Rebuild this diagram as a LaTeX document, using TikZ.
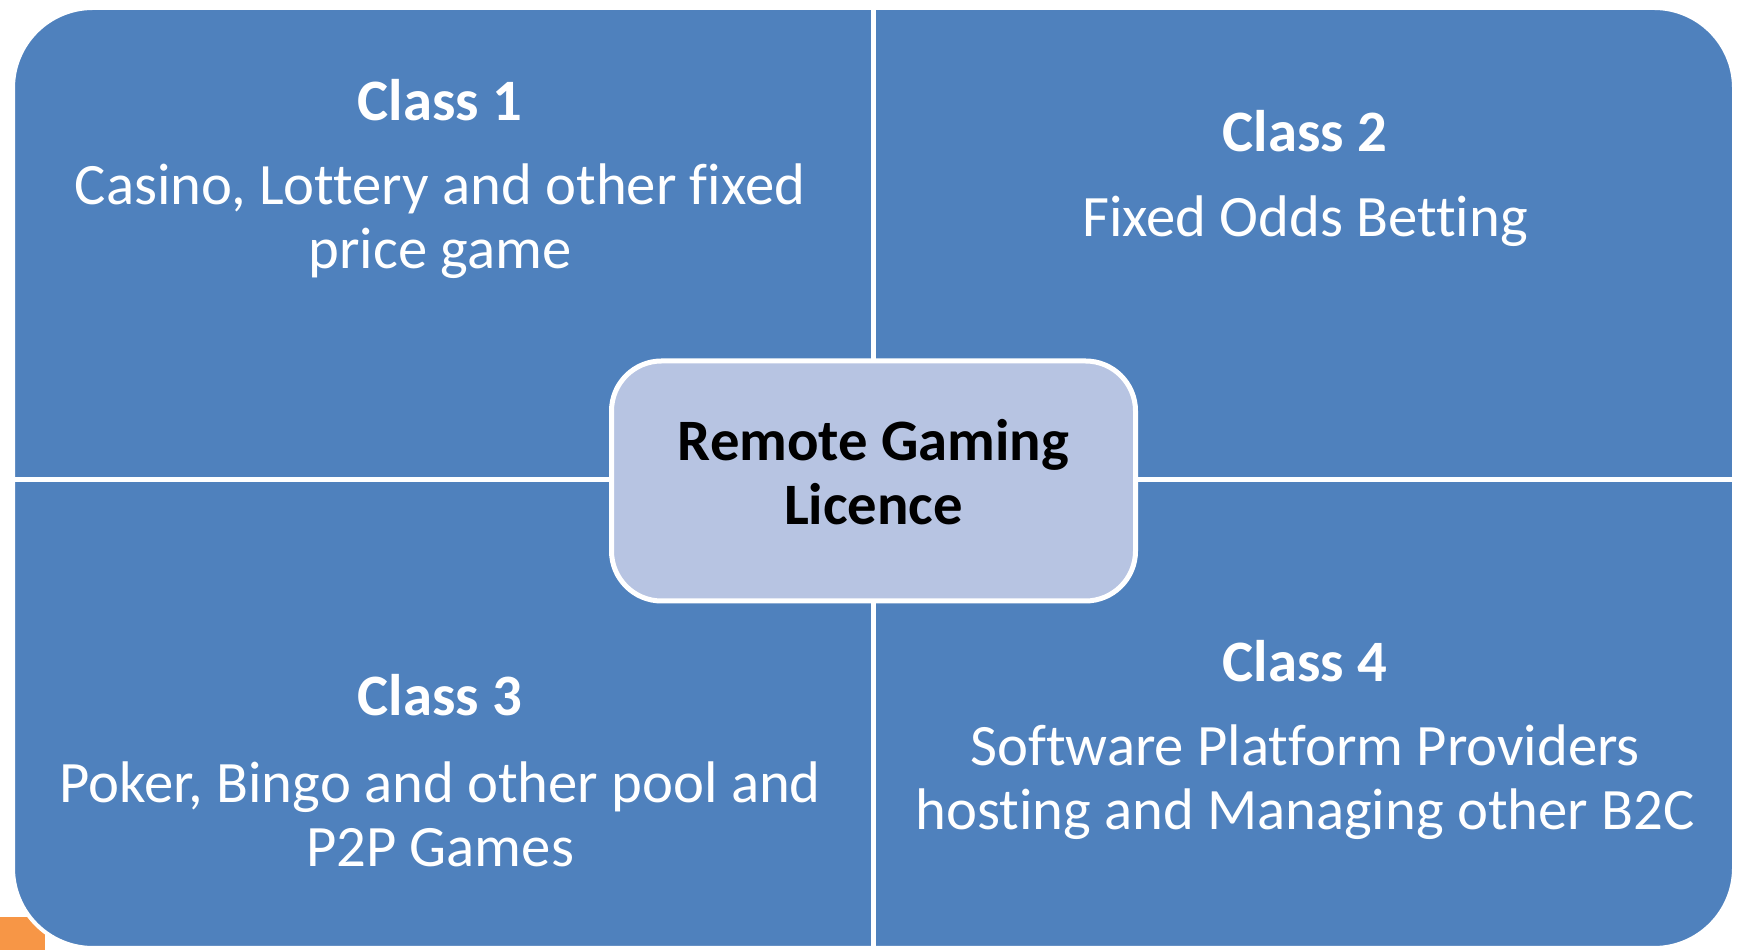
\documentclass[tikz,border=0pt]{standalone}
\usepackage{fontspec}
\setmainfont[Ligatures=NoCommon]{Carlito}
\usetikzlibrary{calc}
\definecolor{quadblue}{HTML}{4F81BD}
\definecolor{hubblue}{HTML}{B7C4E2}
\definecolor{cornerorange}{HTML}{F79646}
\tikzstyle{headnode} = [text=white, font=\fontsize{16.7}{18.2}\selectfont\bfseries, align=center]
\tikzstyle{bodynode} = [text=white, font=\fontsize{16.7}{18.2}\selectfont, align=center]
\tikzstyle{hubnode} = [draw=white, line width=0.05cm, fill=hubblue, rounded corners=0.5cm, minimum width=5.24cm, minimum height=2.40cm, text depth=0.18cm, font=\fontsize{16.7}{18.2}\selectfont\bfseries, align=center]
\tikzstyle{divider} = [draw=white, line width=0.05cm]

\begin{document}
\begin{tikzpicture}
    \useasboundingbox (0,0) rectangle (17.41,9.50);
    \fill[cornerorange] (0,0) rectangle (0.45,0.33);
    \filldraw[fill=quadblue, draw=white, line width=0.04cm, rounded corners=0.8cm] (0.13,0.02) rectangle (17.34,9.42);

    \coordinate (top) at (8.735,9.42);
    \coordinate (bottom) at (8.735,0.02);
    \coordinate (left) at (0.13,4.70);
    \coordinate (right) at (17.34,4.70);
    \draw[divider] (top) -- (bottom);
    \draw[divider] (left) -- (right);

    \node[hubnode] (hub) at (8.735,4.69) {Remote Gaming\\Licence};

    \node[headnode] (class_one) at (4.40,8.50) {Class 1};
    \node[bodynode] (body_one) at ($(class_one)+(0,-1.21)$) {Casino, Lottery and other fixed\\price game};

    \node[headnode] (class_two) at (13.05,8.19) {Class 2};
    \node[bodynode] (body_two) at ($(class_two)+(0,-0.90)$) {Fixed Odds Betting};

    \node[headnode] (class_three) at (4.40,2.55) {Class 3};
    \node[bodynode] (body_three) at ($(class_three)+(0,-1.19)$) {Poker, Bingo and other pool and\\P2P Games};

    \node[headnode] (class_four) at (13.05,2.89) {Class 4};
    \node[bodynode] (body_four) at ($(class_four)+(0,-1.21)$) {Software Platform Providers\\hosting and Managing other B2C};
\end{tikzpicture}
\end{document}
